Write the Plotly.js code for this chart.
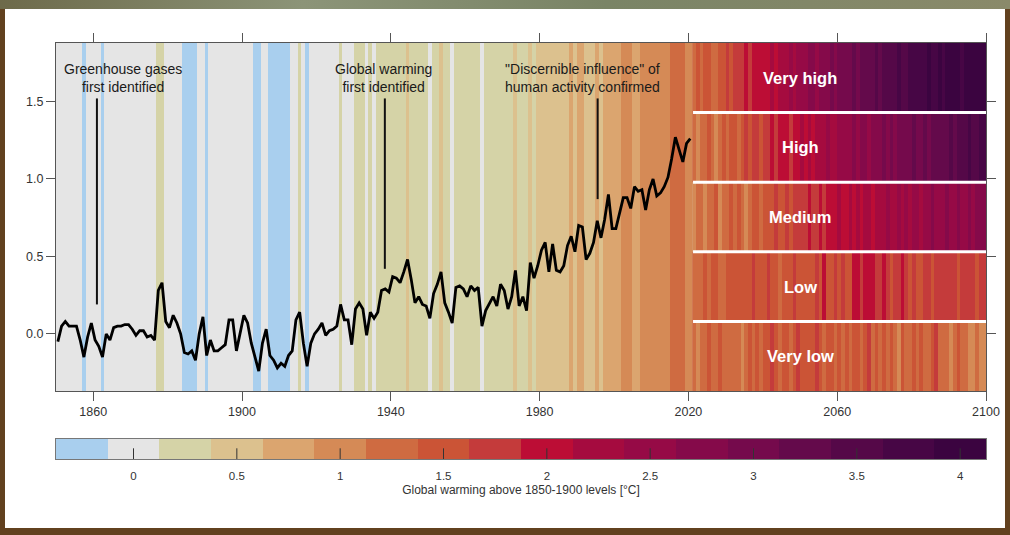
<!DOCTYPE html>
<html><head><meta charset="utf-8">
<script src="https://cdn.plot.ly/plotly-3.0.1.min.js"></script>
<style>
html,body{margin:0;padding:0;width:1010px;height:535px;overflow:hidden;background:#62411f;}
#top{position:absolute;left:0;top:0;width:1010px;height:9px;background:linear-gradient(90deg,#6d6a4a,#8c9478 30%,#7a8466 60%,#8a8a6a);}
#card{position:absolute;left:5px;top:9px;width:1000px;height:519px;background:#fff;}
#chart{width:1000px;height:519px;}
</style></head><body>
<div id="top"></div>
<div id="card"><div id="chart"></div></div>
<script>
// ---------- DATA ----------
const histStart = 1850;
// observed annual global warming (°C above 1850-1900), 1850..2020
const obsTemp = [
 -0.05,0.05,0.08,0.05,0.05,0.05,-0.04,-0.15,-0.02,0.07,
 -0.04,-0.08,-0.15,0.00,-0.04,0.04,0.05,0.05,0.06,0.06,
 0.03,-0.01,0.02,0.02,-0.02,-0.01,-0.04,0.28,0.33,0.08,
 0.04,0.12,0.07,0.00,-0.12,-0.13,-0.11,-0.17,0.00,0.11,
 -0.14,-0.04,-0.11,-0.11,-0.09,-0.07,0.09,0.09,-0.11,0.00,
 0.12,0.07,-0.06,-0.15,-0.24,-0.06,0.03,-0.14,-0.17,-0.22,
 -0.19,-0.21,-0.14,-0.11,0.09,0.14,-0.06,-0.21,-0.06,0.00,
 0.03,0.07,-0.01,0.02,0.03,0.05,0.19,0.09,0.09,-0.07,
 0.16,0.20,0.16,-0.01,0.14,0.10,0.14,0.28,0.29,0.27,
 0.37,0.36,0.33,0.40,0.48,0.35,0.20,0.24,0.19,0.18,
 0.10,0.26,0.32,0.40,0.20,0.14,0.07,0.30,0.31,0.29,
 0.24,0.31,0.28,0.30,0.05,0.15,0.20,0.24,0.18,0.32,
 0.28,0.16,0.24,0.41,0.18,0.24,0.15,0.46,0.36,0.44,
 0.54,0.59,0.40,0.58,0.41,0.40,0.44,0.57,0.63,0.53,
 0.70,0.69,0.48,0.52,0.59,0.73,0.62,0.74,0.90,0.68,
 0.68,0.79,0.88,0.88,0.81,0.95,0.92,0.93,0.80,0.93,
 1.00,0.89,0.91,0.95,1.01,1.13,1.27,1.19,1.11,1.23,
 1.26
];
// warming stripes (binned level per year), 1850..2020
const histStripe = [
 0,0,0,0,0,0,0,-0.25,0,0,
 0,0,-0.25,0,0,0,0,0,0,0,
 0,0,0,0,0,0,0,0.25,0.25,0,
 0,0,0,0,-0.25,-0.25,-0.25,-0.25,0,0,
 -0.25,0,0,0,0,0,0,0,0,0,
 0,0,0,-0.25,-0.25,0,0,-0.25,-0.25,-0.25,
 -0.25,-0.25,-0.25,0,0,0.25,0,-0.25,0,0,
 0,0,0,0,0,0,0.25,0,0,0,
 0.25,0.25,0.25,0,0.25,0,0.25,0.25,0.25,0.25,
 0.25,0.25,0.25,0.25,0.5,0.25,0.25,0.25,0.25,0.25,
 0,0.25,0.25,0.5,0.25,0.25,0,0.25,0.25,0.25,
 0.25,0.25,0.25,0.25,0,0.25,0.25,0.25,0.25,0.25,
 0.25,0.25,0.25,0.5,0.25,0.25,0.25,0.5,0.25,0.5,
 0.5,0.5,0.5,0.5,0.5,0.5,0.5,0.5,0.75,0.5,
 0.75,0.75,0.5,0.5,0.5,0.75,0.5,0.75,0.75,0.75,
 0.75,0.75,1,1,1,0.75,0.75,1,1,1,
 1,1,1,1,1,1.25,1.25,1.25,1.25,1,
 1
];
// future scenario stripes, 2021..2100
const futStart = 2021;
const scenarioNames = ['Very low','Low','Medium','High','Very high'];
const veryLow = [
 1.25,1,1.25,1.25,1.5,1.25,1.25,1.5,1.25,1.25,
 1.25,1.25,1.25,1,1.25,1.5,1.25,1.5,1.25,1.5,
 1.5,1.75,1.5,1.25,1.5,1.5,1.25,1.5,1.75,1.5,
 1.5,1.5,1.5,1.75,1.5,1.25,1.5,1.5,1.25,1.5,
 1.25,1.5,1.25,1.5,1.5,1.25,1.5,1.75,1.25,1.5,
 1.25,1.5,1.25,1.5,1.25,1,1.5,1.25,1.25,1.5,
 1.25,1.5,1.25,1.25,1.5,1.75,1.25,1.25,1.25,1,
 1.25,1.5,1.25,1.25,1,1,1.25,1,1,1.25
];
const low = [
 1.25,1.25,1.25,1.5,1.25,1.5,1.5,1.25,1.25,1.5,
 1.5,1.5,1.5,1.5,1.5,1.5,1.75,1.5,1.5,1.5,
 1.75,1.5,1.5,1.25,1.5,1.5,1.5,1.75,1.5,1.5,
 1.5,1.5,1.5,1.75,1.5,2,1.5,1.5,1.75,1.5,
 1.75,1.5,1.5,2,2,1.75,2,2,2,1.75,
 1.75,2,1.75,1.5,1.75,1.75,2,1.75,1.5,1.75,
 1.5,1.5,1.75,1.75,1.5,1.75,1.75,1.75,1.75,1.75,
 1.75,1.5,1.75,1.75,1.75,1.75,1.5,1.75,1.75,1.75
];
const medium = [
 1,1.25,1.25,1,1.25,1.25,1.5,1,1.25,1.25,
 1.5,1.25,1.5,1.25,1,1.25,1.5,1.5,1.25,1.5,
 1.5,1.5,1.75,1.5,1.5,1.75,1.5,1.75,1.75,1.75,
 1.75,2,1.75,1.75,2,1.75,2,2,2,2.25,
 2,2,2.25,2,2.25,2,2.25,2.25,2,2.25,
 2.25,2.25,2.5,2.25,2.25,2.5,2.25,2.5,2.25,2.5,
 2.5,2.25,2.5,2.5,2.75,2.5,2.5,2.5,2.75,2.5,
 2.5,2.75,2.5,2.5,2.75,2.5,2.75,2.75,2.75,2.75
];
const high = [
 1.25,1,1.25,1.25,1.5,1.25,1,1.25,1.5,1.25,
 1.5,1.5,1.25,1.5,1.75,1.5,1.75,1.75,1.5,1.75,
 1.75,2,1.75,2,2,2,1.75,2,2,2.25,
 2,2.25,2,2.25,2.25,2.25,2.5,2.25,2.25,2.5,
 2.5,2.5,2.5,2.75,2.5,2.75,2.75,2.5,2.75,2.75,
 2.75,3,2.75,3,2.75,3,3,3,3,3.25,
 3,3,3.25,3,3.25,3.25,3.25,3.25,3.25,3.5,
 3.25,3.5,3.5,3.5,3.75,3.5,3.5,3.75,3.75,3.75
];
const veryHigh = [
 1.25,1.5,1.25,1.5,1.5,1.25,1.25,1.5,1.5,1.75,
 1.5,1.75,1.75,1.75,2,1.75,2,2,2,2,
 2,2.25,2,2.25,2.25,2.25,2.5,2.25,2.5,2.5,
 2.5,2.75,2.75,2.5,2.75,2.75,2.75,3,2.75,3,
 3,3,3,3.25,3,3.25,3.25,3.25,3.25,3.5,
 3.25,3.5,3.5,3.5,3.5,3.75,3.5,3.5,3.75,3.75,
 3.75,3.75,3.75,4,3.75,3.75,4,3.75,4,4,
 4,4,3.75,4,4,4,4,4,4,4
];
// colour bins (0.25 °C wide, centred on -0.25 .. 4.0)
const binColors = ['#a9cfee','#e5e5e5','#d5d3a7','#dcc18e','#dba56f','#d58a56','#cf6b41','#cb5436',
 '#c43b3b','#bc0d35','#a50b3f','#960a46','#850a4a','#750a4c','#640a4b','#550848','#470645','#3b0440'];
const binLow = -0.375, binWidth = 0.25;
const cbTickVals = [0,0.5,1,1.5,2,2.5,3,3.5,4];
const cbTickText = ['0','0.5','1','1.5','2','2.5','3','3.5','4'];
const cbTitle = 'Global warming above 1850-1900 levels [°C]';
const xTickVals = [1860,1900,1940,1980,2020,2060,2100];
const yTickVals = [0,0.5,1,1.5];
const eventYears = [1861,1938.4,1995.6];
const eventLabels = ['Greenhouse gases<br>first identified','Global warming<br>first identified','"Discernible influence" of<br>human activity confirmed'];

// ---------- LAYOUT CONSTANTS ----------
const xRange = [1850, 2100];
const yRange = [-0.369, 1.878];
const eventLineTop = 1.52;
const eventLineBottom = [0.19, 0.42, 0.87];
const eventLabelX = [1868, 1938, 1991.4];
const eventLabelY = 1.65;

// ---------- BUILD ----------
const histYears = obsTemp.map((_, i) => histStart + i);
const histCenters = histYears.map(y => y + 0.5);
const futCenters = veryLow.map((_, i) => futStart + i + 0.5);
const nb = binColors.length;
const cmin = binLow, cmax = binLow + binWidth * nb;
const cs = [];
binColors.forEach((c, i) => { cs.push([i / nb, c]); cs.push([(i + 1) / nb, c]); });
const binCenters = binColors.map((_, i) => binLow + binWidth * (i + 0.5));
const bandEdges = [];
for (let i = 0; i <= 5; i++) bandEdges.push(yRange[0] + (yRange[1] - yRange[0]) * i / 5);
const bandCenters = bandEdges.slice(0, 5).map((e, i) => (e + bandEdges[i + 1]) / 2);

const traces = [
 {type:'heatmap', x:histCenters, y:[yRange[0], yRange[1]], z:[histStripe], coloraxis:'coloraxis', hoverinfo:'skip'},
 {type:'heatmap', x:futCenters, y:bandEdges, z:[veryLow, low, medium, high, veryHigh], coloraxis:'coloraxis', hoverinfo:'skip'},
 {type:'scatter', mode:'lines', x:histCenters, y:obsTemp, line:{color:'#000', width:2.8}, hoverinfo:'skip'},
 // colour key drawn as a one-row heatmap on its own axes
 {type:'heatmap', x:binCenters, y:[0, 1], z:[binCenters], coloraxis:'coloraxis', xaxis:'x2', yaxis:'y2', hoverinfo:'skip'},
 // small tick marks inside the colour key
 {type:'scatter', mode:'markers', x:cbTickVals, y:cbTickVals.map(() => 0.22), xaxis:'x2', yaxis:'y2', hoverinfo:'skip',
  marker:{symbol:'line-ns-open', size:9, color:'#333', line:{color:'#333', width:1}}}
];

const shapes = [];
for (let i = 1; i < 5; i++) {
 shapes.push({type:'line', xref:'x', yref:'y', x0:futStart + 0.25, x1:xRange[1], y0:bandEdges[i], y1:bandEdges[i], line:{color:'#ffffff', width:3}});
}
eventYears.forEach((yr, i) => {
 shapes.push({type:'line', xref:'x', yref:'y', x0:yr, x1:yr, y0:eventLineBottom[i], y1:eventLineTop, line:{color:'#111', width:2}});
});

const annotations = [];
eventLabels.forEach((t, i) => {
 annotations.push({x:eventLabelX[i], y:eventLabelY, xref:'x', yref:'y', text:t, showarrow:false, align:'center', xanchor:'center', yanchor:'middle', font:{size:14, color:'#1a1a1a'}});
});
scenarioNames.forEach((n, i) => {
 annotations.push({x:2050, y:bandCenters[i], xref:'x', yref:'y', text:n, showarrow:false, xanchor:'center', yanchor:'middle', font:{size:16.5, color:'#ffffff', weight:'bold'}});
});

const axisCommon = {showgrid:false, zeroline:false, showline:true, linecolor:'#555', linewidth:1, mirror:'ticks', ticks:'outside', ticklen:9, tickcolor:'#555', tickfont:{size:12.5, color:'#333'}};

// plot area: top 34 px, bottom at 450 px of the 519 px card
const plotH = 519 - 34 - 69;
const mainDomainLow = (450 - 382) / plotH;
const keyDomainHigh = (450 - 430) / plotH;

const layout = {
 width:1000, height:519,
 margin:{l:51, r:19, t:34, b:69},
 paper_bgcolor:'#ffffff', plot_bgcolor:'#e5e5e5',
 font:{family:'"Liberation Sans", Arial, sans-serif', color:'#222'},
 showlegend:false,
 xaxis:Object.assign({}, axisCommon, {range:xRange, tickvals:xTickVals, ticktext:xTickVals.map(String), anchor:'y'}),
 yaxis:Object.assign({}, axisCommon, {range:yRange, tickvals:yTickVals, tickformat:'.1f', domain:[mainDomainLow, 1], anchor:'x'}),
 xaxis2:{anchor:'y2', domain:[0, 1], range:[cmin, cmax], showgrid:false, zeroline:false, showline:true, mirror:true, linecolor:'#777', linewidth:1,
  tickmode:'array', tickvals:cbTickVals, ticktext:cbTickText, ticks:'', 
  ticklabelstandoff:6, tickfont:{size:11.5, color:'#333'},
  title:{text:cbTitle, standoff:4, font:{size:12, color:'#333'}}},
 yaxis2:{anchor:'x2', domain:[0, keyDomainHigh], range:[0, 1], showgrid:false, zeroline:false, showline:true, mirror:true, linecolor:'#777', linewidth:1, showticklabels:false, ticks:''},
 coloraxis:{colorscale:cs, cmin:cmin, cmax:cmax, showscale:false},
 shapes:shapes,
 annotations:annotations
};

Plotly.newPlot('chart', traces, layout, {displayModeBar:false, staticPlot:true});
</script>
</body></html>
